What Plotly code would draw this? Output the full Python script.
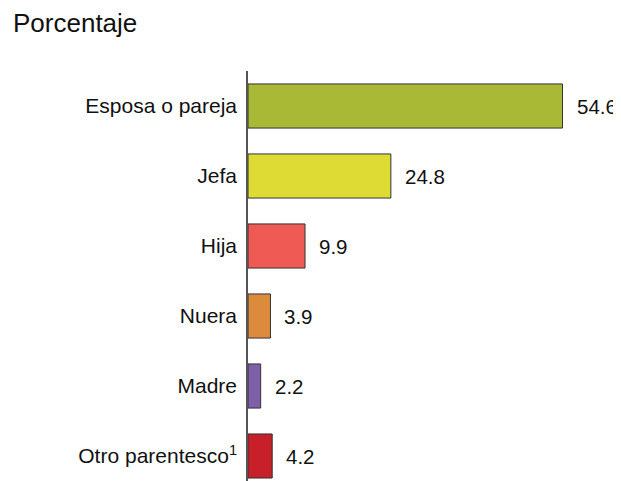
import plotly.graph_objects as go

categories = ["Esposa o pareja", "Jefa", "Hija", "Nuera", "Madre", "Otro parentesco<sup>1</sup>"]
values = [54.6, 24.8, 9.9, 3.9, 2.2, 4.2]
colors = ["#A9B935", "#DEDC34", "#F05A54", "#DB8B3B", "#7F5FA8", "#C8202A"]
value_labels = ["54.6", "24.8", "9.9", "3.9", "2.2", "4.2"]

# page body has an 8px margin: size the figure to fit the window
W, H = 613, 473
ML, MR, MT, MB = 240, 5, 63, 0
plot_h = H - MT - MB
px_per_unit = 5.76
x_max = (W - ML - MR) / px_per_unit
cat_px = 70.0
y_span = plot_h / cat_px

pos = list(range(len(categories)))

fig = go.Figure()
fig.add_trace(go.Bar(
    x=values, y=pos, orientation="h",
    marker=dict(color=colors, line=dict(color="#333333", width=1)),
    width=0.63, hoverinfo="skip",
))

annotations = []
for v, p, t in zip(values, pos, value_labels):
    annotations.append(dict(x=v, y=p, xref="x", yref="y", text=t, showarrow=False,
                            xanchor="left", yanchor="middle", xshift=12,
                            font=dict(size=20.5, color="#111111")))

def paper_y(px):
    return 1 + (MT - px) / plot_h

annotations.append(dict(x=0, y=paper_y(15), xref="paper", yref="paper", text="Porcentaje",
                        showarrow=False, xanchor="left", yanchor="middle",
                        xshift=-(ML - 3), font=dict(size=26, color="#111111")))
annotations.append(dict(x=0, y=paper_y(-13), xref="paper", yref="paper", text="2015",
                        showarrow=False, xanchor="left", yanchor="middle",
                        xshift=-(ML - 3), font=dict(size=26, color="#111111")))

fig.update_layout(
    width=W, height=H,
    margin=dict(l=ML, r=MR, t=MT, b=MB, pad=0),
    paper_bgcolor="white", plot_bgcolor="white",
    font=dict(family="Liberation Sans, Arial, sans-serif", size=21, color="#111111"),
    showlegend=False,
    annotations=annotations,
    xaxis=dict(range=[0, x_max], visible=False, fixedrange=True),
    yaxis=dict(range=[-0.5 + y_span, -0.5], tickmode="array", tickvals=pos, ticktext=categories,
               showline=True, linecolor="#555555", linewidth=1.5, showgrid=False,
               zeroline=False, ticks="", ticklabelstandoff=5,
               tickfont=dict(size=21, color="#111111")),
)

fig.write_html("out.html")
